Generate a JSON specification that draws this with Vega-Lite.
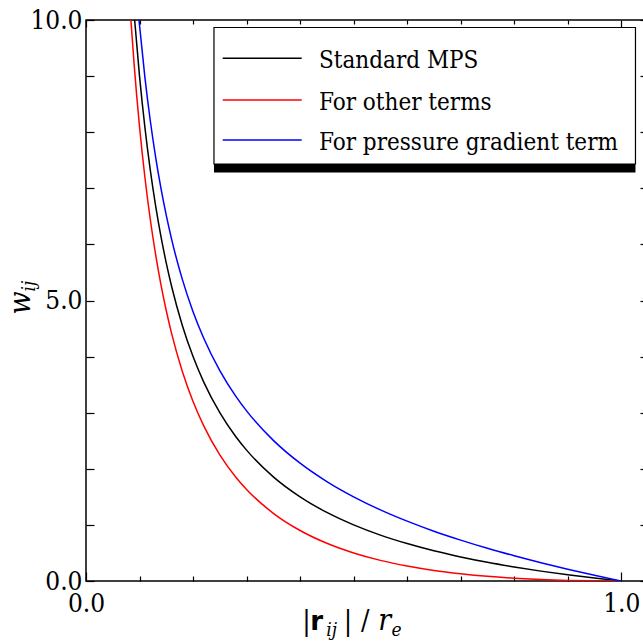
{
  "$schema": "https://vega.github.io/schema/vega-lite/v6.json",
  "width": 562,
  "height": 561,
  "autosize": {"type": "none"},
  "padding": {"left": 86, "top": 20, "right": 0, "bottom": 63},
  "background": "white",
  "config": {
    "view": {"stroke": "black", "strokeWidth": 1.5},
    "axis": {"domain": false, "grid": false, "tickColor": "black", "tickWidth": 1.2, "labelFont": "DejaVu Serif Condensed, DejaVu Serif", "labelFontSize": 26, "labelColor": "black", "labelFlush": false, "labelOverlap": false, "title": null}
  },
  "resolve": {"axis": {"x": "independent", "y": "independent"}},
  "layer": [
    {
      "data": {"values": [
        {"r": 0.0909, "w": 10.0, "series": "Standard MPS"},
        {"r": 0.1, "w": 9.0, "series": "Standard MPS"},
        {"r": 0.11, "w": 8.091, "series": "Standard MPS"},
        {"r": 0.12, "w": 7.333, "series": "Standard MPS"},
        {"r": 0.13, "w": 6.692, "series": "Standard MPS"},
        {"r": 0.14, "w": 6.143, "series": "Standard MPS"},
        {"r": 0.15, "w": 5.667, "series": "Standard MPS"},
        {"r": 0.16, "w": 5.25, "series": "Standard MPS"},
        {"r": 0.18, "w": 4.556, "series": "Standard MPS"},
        {"r": 0.2, "w": 4.0, "series": "Standard MPS"},
        {"r": 0.22, "w": 3.545, "series": "Standard MPS"},
        {"r": 0.25, "w": 3.0, "series": "Standard MPS"},
        {"r": 0.28, "w": 2.571, "series": "Standard MPS"},
        {"r": 0.3, "w": 2.333, "series": "Standard MPS"},
        {"r": 0.35, "w": 1.857, "series": "Standard MPS"},
        {"r": 0.4, "w": 1.5, "series": "Standard MPS"},
        {"r": 0.45, "w": 1.222, "series": "Standard MPS"},
        {"r": 0.5, "w": 1.0, "series": "Standard MPS"},
        {"r": 0.55, "w": 0.818, "series": "Standard MPS"},
        {"r": 0.6, "w": 0.667, "series": "Standard MPS"},
        {"r": 0.65, "w": 0.538, "series": "Standard MPS"},
        {"r": 0.7, "w": 0.429, "series": "Standard MPS"},
        {"r": 0.75, "w": 0.333, "series": "Standard MPS"},
        {"r": 0.8, "w": 0.25, "series": "Standard MPS"},
        {"r": 0.85, "w": 0.176, "series": "Standard MPS"},
        {"r": 0.9, "w": 0.111, "series": "Standard MPS"},
        {"r": 0.95, "w": 0.053, "series": "Standard MPS"},
        {"r": 1.0, "w": 0.0, "series": "Standard MPS"},
        {"r": 0.0839, "w": 10.0, "series": "For other terms"},
        {"r": 0.09, "w": 9.201, "series": "For other terms"},
        {"r": 0.1, "w": 8.1, "series": "For other terms"},
        {"r": 0.11, "w": 7.201, "series": "For other terms"},
        {"r": 0.12, "w": 6.453, "series": "For other terms"},
        {"r": 0.13, "w": 5.822, "series": "For other terms"},
        {"r": 0.14, "w": 5.283, "series": "For other terms"},
        {"r": 0.15, "w": 4.817, "series": "For other terms"},
        {"r": 0.16, "w": 4.41, "series": "For other terms"},
        {"r": 0.18, "w": 3.736, "series": "For other terms"},
        {"r": 0.2, "w": 3.2, "series": "For other terms"},
        {"r": 0.22, "w": 2.766, "series": "For other terms"},
        {"r": 0.25, "w": 2.25, "series": "For other terms"},
        {"r": 0.28, "w": 1.851, "series": "For other terms"},
        {"r": 0.3, "w": 1.633, "series": "For other terms"},
        {"r": 0.35, "w": 1.207, "series": "For other terms"},
        {"r": 0.4, "w": 0.9, "series": "For other terms"},
        {"r": 0.45, "w": 0.672, "series": "For other terms"},
        {"r": 0.5, "w": 0.5, "series": "For other terms"},
        {"r": 0.55, "w": 0.368, "series": "For other terms"},
        {"r": 0.6, "w": 0.267, "series": "For other terms"},
        {"r": 0.65, "w": 0.188, "series": "For other terms"},
        {"r": 0.7, "w": 0.129, "series": "For other terms"},
        {"r": 0.75, "w": 0.083, "series": "For other terms"},
        {"r": 0.8, "w": 0.05, "series": "For other terms"},
        {"r": 0.85, "w": 0.026, "series": "For other terms"},
        {"r": 0.9, "w": 0.011, "series": "For other terms"},
        {"r": 0.95, "w": 0.003, "series": "For other terms"},
        {"r": 1.0, "w": 0.0, "series": "For other terms"},
        {"r": 0.099, "w": 10.0, "series": "For pressure gradient term"},
        {"r": 0.11, "w": 8.981, "series": "For pressure gradient term"},
        {"r": 0.12, "w": 8.213, "series": "For pressure gradient term"},
        {"r": 0.13, "w": 7.562, "series": "For pressure gradient term"},
        {"r": 0.14, "w": 7.003, "series": "For pressure gradient term"},
        {"r": 0.15, "w": 6.517, "series": "For pressure gradient term"},
        {"r": 0.16, "w": 6.09, "series": "For pressure gradient term"},
        {"r": 0.18, "w": 5.376, "series": "For pressure gradient term"},
        {"r": 0.2, "w": 4.8, "series": "For pressure gradient term"},
        {"r": 0.22, "w": 4.326, "series": "For pressure gradient term"},
        {"r": 0.25, "w": 3.75, "series": "For pressure gradient term"},
        {"r": 0.28, "w": 3.291, "series": "For pressure gradient term"},
        {"r": 0.3, "w": 3.033, "series": "For pressure gradient term"},
        {"r": 0.35, "w": 2.507, "series": "For pressure gradient term"},
        {"r": 0.4, "w": 2.1, "series": "For pressure gradient term"},
        {"r": 0.45, "w": 1.772, "series": "For pressure gradient term"},
        {"r": 0.5, "w": 1.5, "series": "For pressure gradient term"},
        {"r": 0.55, "w": 1.268, "series": "For pressure gradient term"},
        {"r": 0.6, "w": 1.067, "series": "For pressure gradient term"},
        {"r": 0.65, "w": 0.888, "series": "For pressure gradient term"},
        {"r": 0.7, "w": 0.729, "series": "For pressure gradient term"},
        {"r": 0.75, "w": 0.583, "series": "For pressure gradient term"},
        {"r": 0.8, "w": 0.45, "series": "For pressure gradient term"},
        {"r": 0.85, "w": 0.326, "series": "For pressure gradient term"},
        {"r": 0.9, "w": 0.211, "series": "For pressure gradient term"},
        {"r": 0.95, "w": 0.103, "series": "For pressure gradient term"},
        {"r": 1.0, "w": 0.0, "series": "For pressure gradient term"}
      ]},
      "mark": {"type": "line", "strokeWidth": 1.5, "interpolate": "monotone", "clip": true},
      "encoding": {
        "x": {"field": "r", "type": "quantitative", "scale": {"domain": [0, 1.05], "nice": false, "zero": false},
              "axis": {"orient": "bottom", "values": [0, 1], "tickSize": -9, "labelPadding": 18, "format": ".1f"}},
        "y": {"field": "w", "type": "quantitative", "scale": {"domain": [0, 10], "nice": false},
              "axis": {"orient": "left", "values": [0, 1, 2, 3, 4, 5, 6, 7, 8, 9, 10], "tickSize": -8, "labelPadding": 12,
                       "labelExpr": "datum.value % 5 === 0 ? format(datum.value, '.1f') : ''"}},
        "color": {"field": "series", "type": "nominal", "legend": null,
                  "scale": {"domain": ["Standard MPS", "For other terms", "For pressure gradient term"], "range": ["#000000", "#ff0000", "#0000ff"]}},
        "detail": {"field": "series"}
      }
    },
    {
      "data": {"values": [{}]},
      "mark": {"type": "rect", "fill": "black"},
      "encoding": {
        "x": {"datum": 0.2391, "type": "quantitative", "scale": {"domain": [0, 1.05]},
              "axis": {"orient": "bottom", "values": [0.1, 0.2, 0.3, 0.4, 0.5, 0.6, 0.7, 0.8, 0.9], "tickSize": -5, "labels": false}},
        "x2": {"datum": 1.0266},
        "y": {"datum": 7.433, "type": "quantitative", "scale": {"domain": [0, 10]},
              "axis": {"orient": "right", "values": [0, 1, 2, 3, 4, 5, 6, 7, 8, 9, 10], "tickSize": -8, "labels": false}},
        "y2": {"datum": 7.282}
      }
    },
    {
      "data": {"values": [{}]},
      "mark": {"type": "rect", "fill": "white", "stroke": "black", "strokeWidth": 1.2},
      "encoding": {
        "x": {"datum": 0.2391, "type": "quantitative", "scale": {"domain": [0, 1.05]},
              "axis": {"orient": "top", "values": [0.1, 0.2, 0.3, 0.4, 0.5, 0.6, 0.7, 0.8, 0.9], "tickSize": -4, "labels": false}},
        "x2": {"datum": 1.0266},
        "y": {"datum": 9.866, "type": "quantitative", "scale": {"domain": [0, 10]}, "axis": null},
        "y2": {"datum": 7.433}
      }
    },
    {
      "data": {"values": [{}]},
      "mark": {"type": "rule", "stroke": "black", "strokeWidth": 1.5},
      "encoding": {
        "x": {"datum": 0.2554, "type": "quantitative", "scale": {"domain": [0, 1.05]},
              "axis": {"orient": "top", "values": [0, 1], "tickSize": -7, "labels": false}},
        "x2": {"datum": 0.403},
        "y": {"datum": 9.317, "type": "quantitative", "scale": {"domain": [0, 10]}, "axis": null}
      }
    },
    {
      "data": {"values": [{}]},
      "mark": {"type": "rule", "stroke": "#ff0000", "strokeWidth": 1.5},
      "encoding": {
        "x": {"datum": 0.2554, "type": "quantitative", "scale": {"domain": [0, 1.05]}, "axis": null},
        "x2": {"datum": 0.403},
        "y": {"datum": 8.574, "type": "quantitative", "scale": {"domain": [0, 10]}, "axis": null}
      }
    },
    {
      "data": {"values": [{}]},
      "mark": {"type": "rule", "stroke": "#0000ff", "strokeWidth": 1.5},
      "encoding": {
        "x": {"datum": 0.2554, "type": "quantitative", "scale": {"domain": [0, 1.05]}, "axis": null},
        "x2": {"datum": 0.403},
        "y": {"datum": 7.861, "type": "quantitative", "scale": {"domain": [0, 10]}, "axis": null}
      }
    },
    {
      "data": {"values": [{"label": "Standard MPS", "pos": 9.144}, {"label": "For other terms", "pos": 8.402}, {"label": "For pressure gradient term", "pos": 7.688}]},
      "mark": {"type": "text", "font": "DejaVu Serif Condensed, DejaVu Serif", "fontSize": 24, "align": "left", "baseline": "alphabetic", "color": "black"},
      "encoding": {
        "x": {"datum": 0.4353, "type": "quantitative", "scale": {"domain": [0, 1.05]}, "axis": null},
        "y": {"field": "pos", "type": "quantitative", "scale": {"domain": [0, 10]}, "axis": null},
        "text": {"field": "label"}
      }
    },
    {
      "data": {"values": [{}]},
      "mark": {"type": "text", "font": "DejaVu Serif Condensed, DejaVu Serif", "fontSize": 30, "fontStyle": "italic", "align": "center", "baseline": "middle", "angle": 270, "color": "black"},
      "encoding": {
        "x": {"datum": -0.1215, "type": "quantitative", "scale": {"domain": [0, 1.05]}, "axis": null},
        "y": {"datum": 4.955, "type": "quantitative", "scale": {"domain": [0, 10]}, "axis": null},
        "text": {"value": "w"}
      }
    },
    {
      "data": {"values": [{}]},
      "mark": {"type": "text", "font": "DejaVu Serif Condensed, DejaVu Serif", "fontSize": 19, "fontStyle": "italic", "align": "center", "baseline": "middle", "angle": 270, "color": "black"},
      "encoding": {
        "x": {"datum": -0.1065, "type": "quantitative", "scale": {"domain": [0, 1.05]}, "axis": null},
        "y": {"datum": 5.258, "type": "quantitative", "scale": {"domain": [0, 10]}, "axis": null},
        "text": {"value": "ij"}
      }
    },
    {
      "data": {"values": [{"t": "|", "px": 0.4121}, {"t": "|", "px": 0.4897}, {"t": "/", "px": 0.5215}]},
      "mark": {"type": "text", "font": "DejaVu Serif Condensed, DejaVu Serif", "fontSize": 28, "align": "center", "baseline": "alphabetic", "color": "black"},
      "encoding": {
        "x": {"field": "px", "type": "quantitative", "scale": {"domain": [0, 1.05]}, "axis": null},
        "y": {"datum": -0.873, "type": "quantitative", "scale": {"domain": [0, 10]}, "axis": null},
        "text": {"field": "t"}
      }
    },
    {
      "data": {"values": [{}]},
      "mark": {"type": "text", "font": "DejaVu Sans", "fontSize": 26, "fontWeight": "bold", "align": "center", "baseline": "alphabetic", "color": "black"},
      "encoding": {
        "x": {"datum": 0.4308, "type": "quantitative", "scale": {"domain": [0, 1.05]}, "axis": null},
        "y": {"datum": -0.873, "type": "quantitative", "scale": {"domain": [0, 10]}, "axis": null},
        "text": {"value": "r"}
      }
    },
    {
      "data": {"values": [{}]},
      "mark": {"type": "text", "font": "DejaVu Serif Condensed, DejaVu Serif", "fontSize": 30, "fontStyle": "italic", "align": "center", "baseline": "alphabetic", "color": "black"},
      "encoding": {
        "x": {"datum": 0.5579, "type": "quantitative", "scale": {"domain": [0, 1.05]}, "axis": null},
        "y": {"datum": -0.873, "type": "quantitative", "scale": {"domain": [0, 10]}, "axis": null},
        "text": {"value": "r"}
      }
    },
    {
      "data": {"values": [{"t": "ij", "px": 0.4589}, {"t": "e", "px": 0.5804}]},
      "mark": {"type": "text", "font": "DejaVu Serif Condensed, DejaVu Serif", "fontSize": 19, "fontStyle": "italic", "align": "center", "baseline": "alphabetic", "color": "black"},
      "encoding": {
        "x": {"field": "px", "type": "quantitative", "scale": {"domain": [0, 1.05]}, "axis": null},
        "y": {"datum": -0.98, "type": "quantitative", "scale": {"domain": [0, 10]}, "axis": null},
        "text": {"field": "t"}
      }
    }
  ]
}
